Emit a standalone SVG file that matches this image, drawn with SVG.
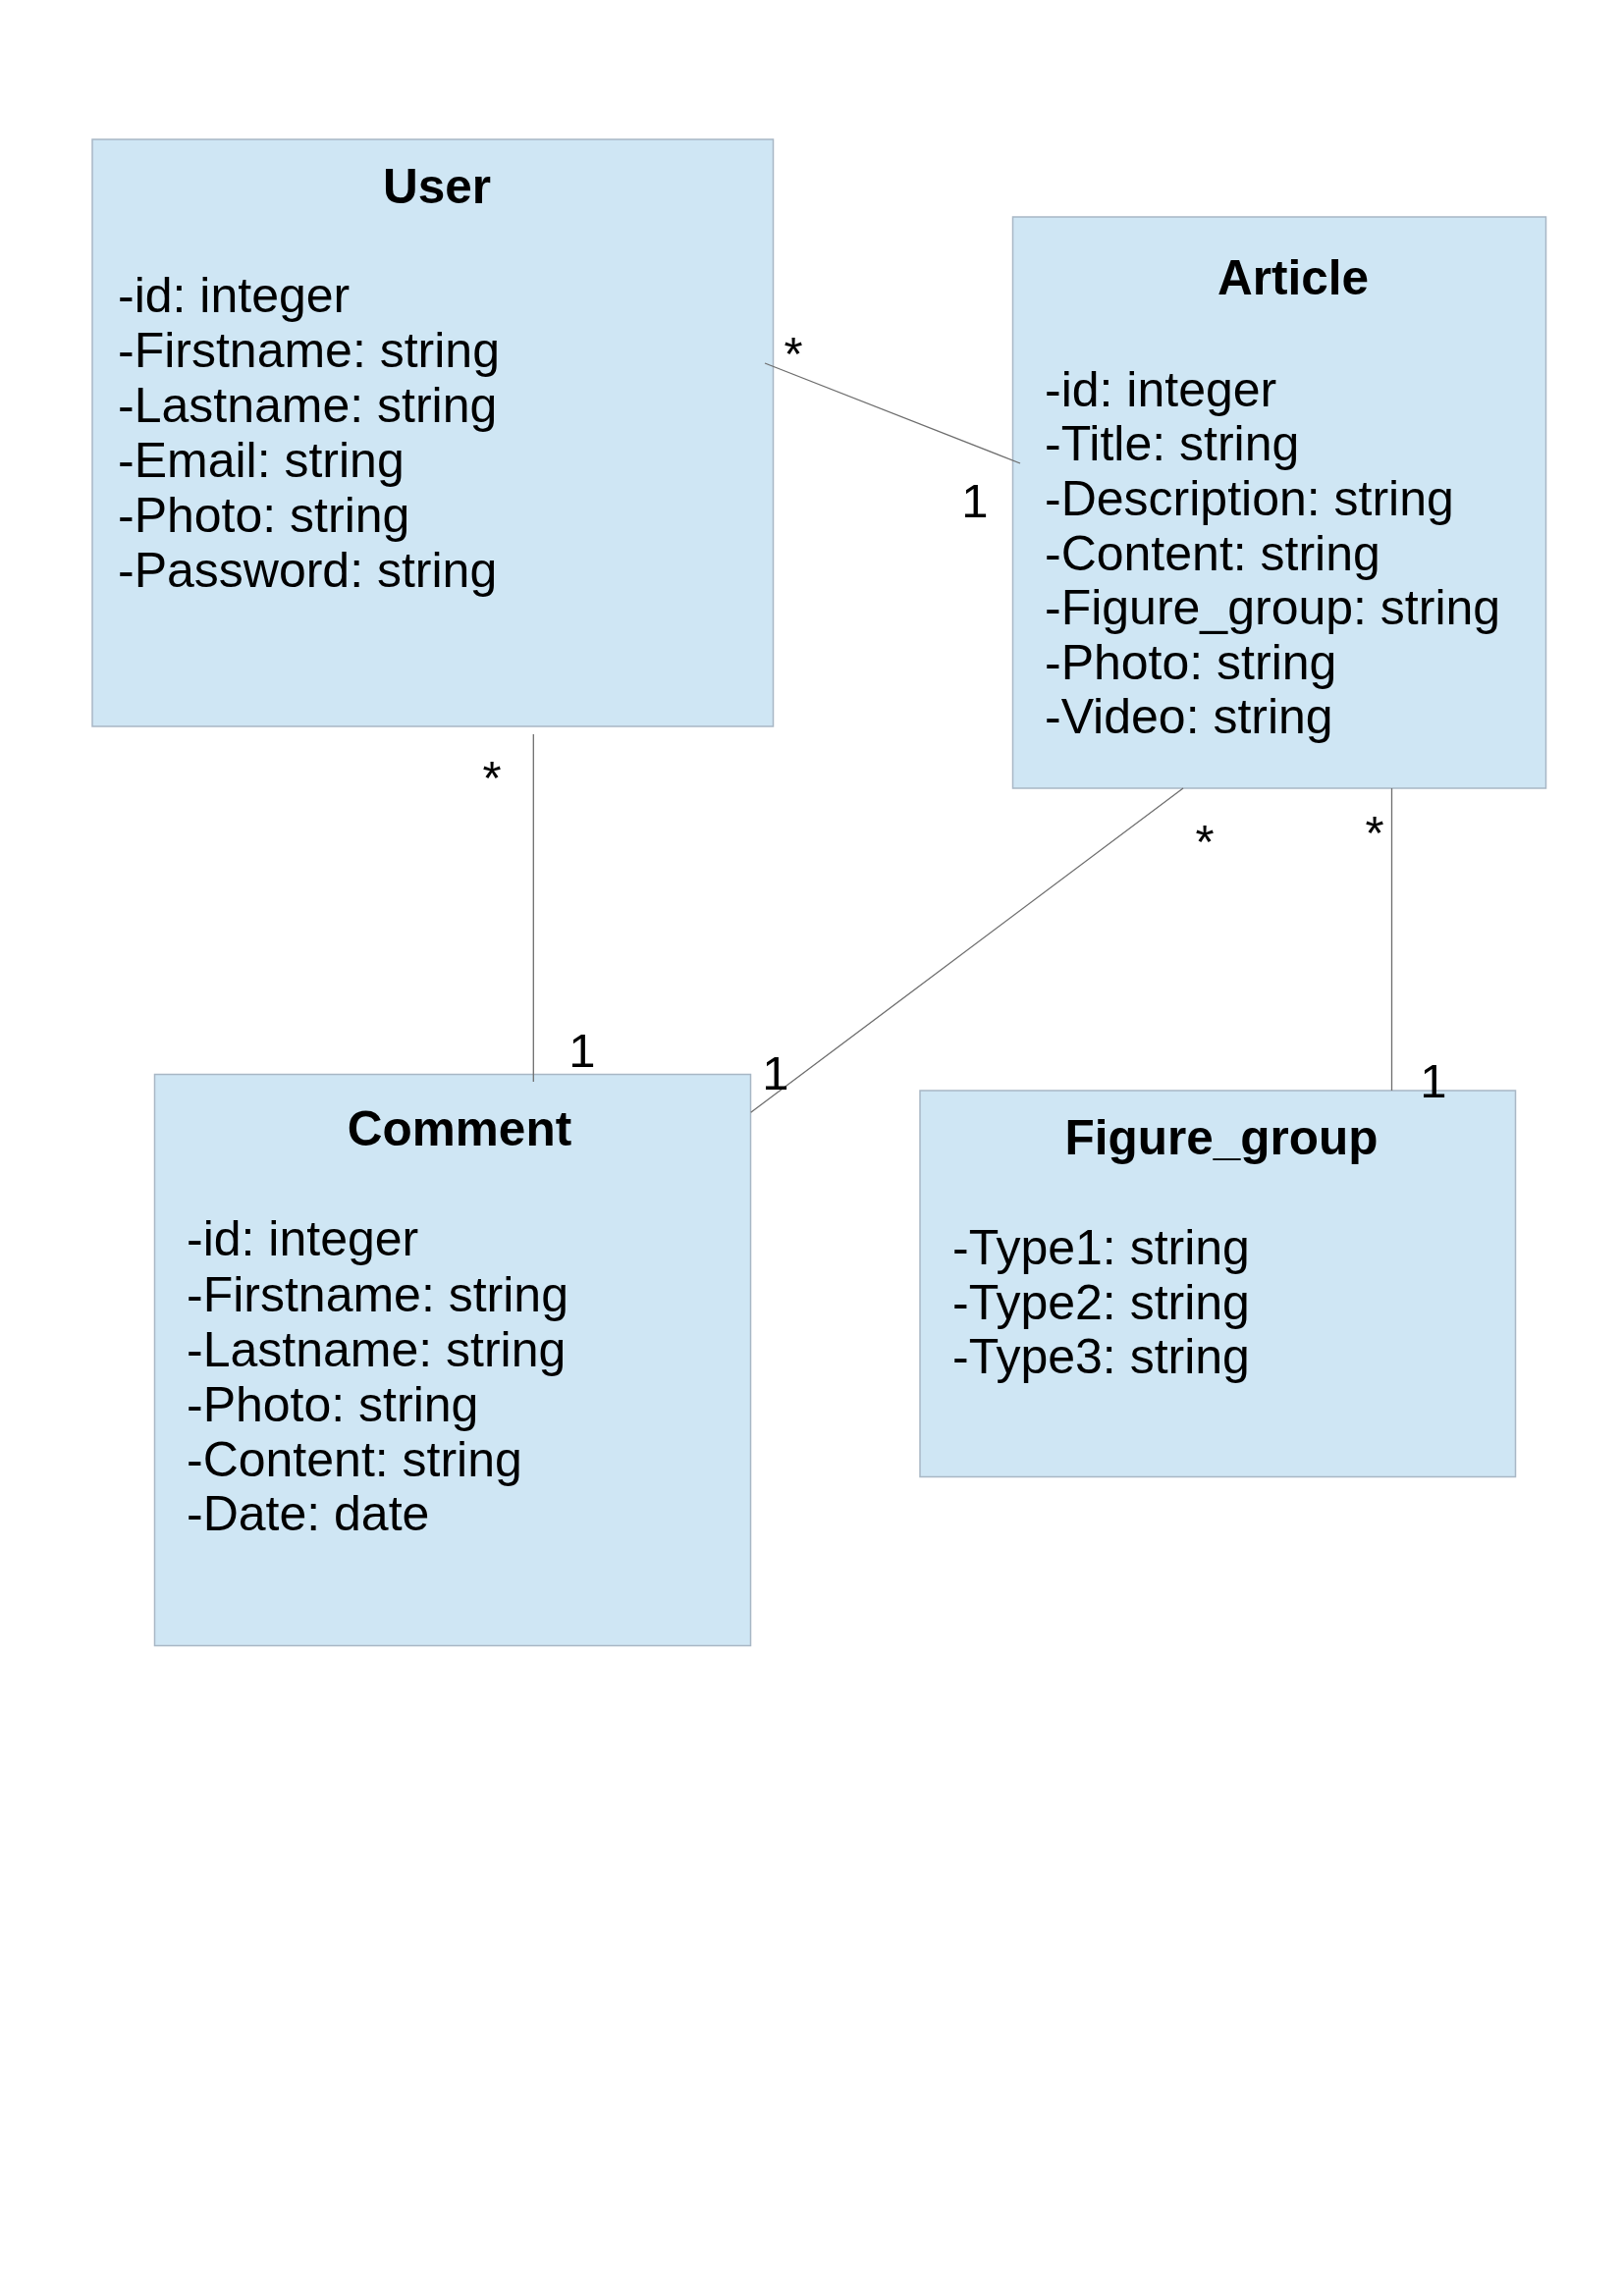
<svg xmlns="http://www.w3.org/2000/svg" width="1653" height="2339" viewBox="0 0 1653 2339">
<style>
.box{fill:#cfe6f4;stroke:#a8b7c5;stroke-width:1.5}
.title{font-family:"Liberation Sans",Arial,sans-serif;font-size:49.5px;font-weight:bold;fill:#000;text-anchor:middle}
.attr{font-family:"Liberation Sans",Arial,sans-serif;font-size:50px;fill:#000}
.lbl{font-family:"Liberation Sans",Arial,sans-serif;font-size:49px;fill:#000;text-anchor:middle}
.conn{stroke:#6e6e6e;stroke-width:1.3;fill:none}
</style>
<rect width="1653" height="2339" fill="#ffffff"/>
<g id="node-user">
<rect class="box" x="94" y="142" width="693.5" height="598"/>
<text class="title" x="445" y="207">User</text>
<text class="attr"><tspan x="120" y="318">-id: integer</tspan><tspan x="120" y="374">-Firstname: string</tspan><tspan x="120" y="430">-Lastname: string</tspan><tspan x="120" y="486">-Email: string</tspan><tspan x="120" y="542">-Photo: string</tspan><tspan x="120" y="598">-Password: string</tspan></text>
</g>
<g id="node-article">
<rect class="box" x="1031.5" y="221" width="543" height="582"/>
<text class="title" x="1317" y="300">Article</text>
<text class="attr"><tspan x="1064" y="414">-id: integer</tspan><tspan x="1064" y="469">-Title: string</tspan><tspan x="1064" y="525">-Description: string</tspan><tspan x="1064" y="581">-Content: string</tspan><tspan x="1064" y="636">-Figure_group: string</tspan><tspan x="1064" y="692">-Photo: string</tspan><tspan x="1064" y="747">-Video: string</tspan></text>
</g>
<g id="node-comment">
<rect class="box" x="157.5" y="1094.5" width="607" height="582"/>
<text class="title" x="468" y="1167">Comment</text>
<text class="attr"><tspan x="190" y="1279">-id: integer</tspan><tspan x="190" y="1336">-Firstname: string</tspan><tspan x="190" y="1392">-Lastname: string</tspan><tspan x="190" y="1448">-Photo: string</tspan><tspan x="190" y="1504">-Content: string</tspan><tspan x="190" y="1559">-Date: date</tspan></text>
</g>
<g id="node-figure-group">
<rect class="box" x="937" y="1111" width="606.5" height="393.5"/>
<text class="title" x="1244" y="1176">Figure_group</text>
<text class="attr"><tspan x="970" y="1288">-Type1: string</tspan><tspan x="970" y="1344">-Type2: string</tspan><tspan x="970" y="1399">-Type3: string</tspan></text>
</g>
<g id="connectors">
<line class="conn" x1="779" y1="370" x2="1039" y2="472"/>
<line class="conn" x1="543.3" y1="748" x2="543.3" y2="1102"/>
<line class="conn" x1="1205" y1="803" x2="764.7" y2="1133.3"/>
<line class="conn" x1="1417.5" y1="803" x2="1417.5" y2="1111"/>
<text class="lbl" x="808" y="377">*</text>
<text class="lbl" x="993" y="527">1</text>
<text class="lbl" x="501" y="809">*</text>
<text class="lbl" x="593" y="1087">1</text>
<text class="lbl" x="790" y="1110">1</text>
<text class="lbl" x="1227" y="874">*</text>
<text class="lbl" x="1400" y="865">*</text>
<text class="lbl" x="1460" y="1118">1</text>
</g>
</svg>
